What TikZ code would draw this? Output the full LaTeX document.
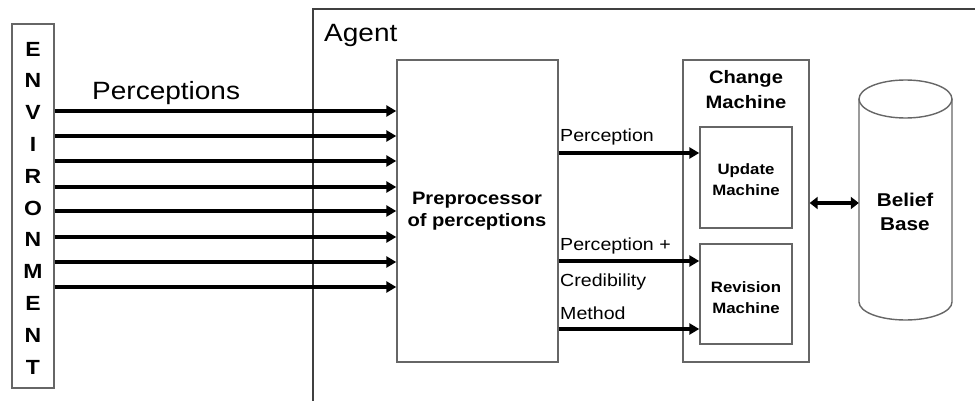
\documentclass[tikz,border=0pt]{standalone}
\usepackage{fontspec}
\setmainfont[FakeStretch=1.12]{Liberation Sans}
\usetikzlibrary{arrows.meta}
\begin{document}
\begin{tikzpicture}[x=1pt,y=-1pt,
  boxline/.style={draw=black!60,line width=1.4pt},
  blk/.style={boxline,inner sep=0pt},
  arr/.style={line width=3.6pt,-{Triangle[length=10pt,width=11pt]}},
  darr/.style={line width=3.4pt,{Triangle[length=8pt,width=12pt]}-{Triangle[length=8pt,width=12pt]}},
  lab/.style={inner sep=0pt,anchor=base west,font=\fontsize{17.5}{21}\selectfont},
  bold/.style={inner sep=0pt,align=center,font=\bfseries\fontsize{18}{22}\selectfont}]
\useasboundingbox[fill=white] (0,0) rectangle (975,401);
% Agent frame (open to the right and bottom)
\coordinate (agbl) at (313,402);
\coordinate (agtr) at (976,9);
\draw[boxline,draw=black!75,line width=1.2pt] (agbl) |- (agtr);
\node[inner sep=0pt,anchor=base west,font=\fontsize{25}{30}\selectfont] (agent) at (324,42) {Agent};
% Environment
\node[blk,minimum width=42pt,minimum height=364pt] (env) at (33,206) {};
\foreach \L [count=\i] in {E,N,V,I,R,O,N,M,E,N,T}{
  \node[inner sep=0pt,font=\bfseries\fontsize{20.5}{20}\selectfont] (l\i) at (33,{49+31.8*(\i-1)}) {\L};
}
\node[inner sep=0pt,anchor=base west,font=\fontsize{25}{30}\selectfont] (perc) at (92,100) {Perceptions};
% Preprocessor
\node[blk,minimum width=161pt,minimum height=302pt] (pre) at (477.5,211) {};
\node[bold] (pretxt) at (477,211) {Preprocessor\\of perceptions};
\foreach \y in {111,136,161,187,211,237,262,287}{
  \draw[arr] (env.east |- 0,\y) -- (pre.west |- 0,\y);
}
% Change machine
\node[blk,minimum width=126pt,minimum height=302pt] (cm) at (746,211) {};
\node[bold,font=\bfseries\fontsize{18}{25}\selectfont] (cmtxt) at (746,90) {Change\\Machine};
\node[blk,minimum width=92pt,minimum height=101pt] (um) at (746,177.5) {};
\node[bold,font=\bfseries\fontsize{15}{21}\selectfont] (umtxt) at (746,180) {Update\\Machine};
\node[blk,minimum width=92pt,minimum height=100pt] (rm) at (746,294) {};
\node[bold,font=\bfseries\fontsize{15}{21}\selectfont] (rmtxt) at (746,298) {Revision\\Machine};
% arrows to machines
\draw[arr] (pre.east |- 0,153) -- (um.west |- 0,153);
\draw[arr] (pre.east |- 0,261) -- (rm.west |- 0,261);
\draw[arr] (pre.east |- 0,329) -- (rm.west |- 0,329);
\node[lab] (l1a) at (560,142) {Perception};
\node[lab] (l2a) at (560,250) {Perception +};
\node[lab] (l2b) at (560,286) {Credibility};
\node[lab] (l2c) at (560,319) {Method};
% Belief base cylinder
\node[inner sep=0pt,minimum width=93pt,minimum height=240pt] (cyl) at (905.5,200) {};
\draw[boxline] (905.5,99) ellipse [x radius=46.5, y radius=19];
\draw[boxline] (859,99) -- (859,302) arc[start angle=180,end angle=0,x radius=46.5,y radius=18] -- (952,99);
\node[bold,font=\bfseries\fontsize{18.5}{24}\selectfont] (bb) at (905,212) {Belief\\Base};
\draw[darr] (cm.east |- 0,203) -- (cyl.west |- 0,203);
\end{tikzpicture}
\end{document}
